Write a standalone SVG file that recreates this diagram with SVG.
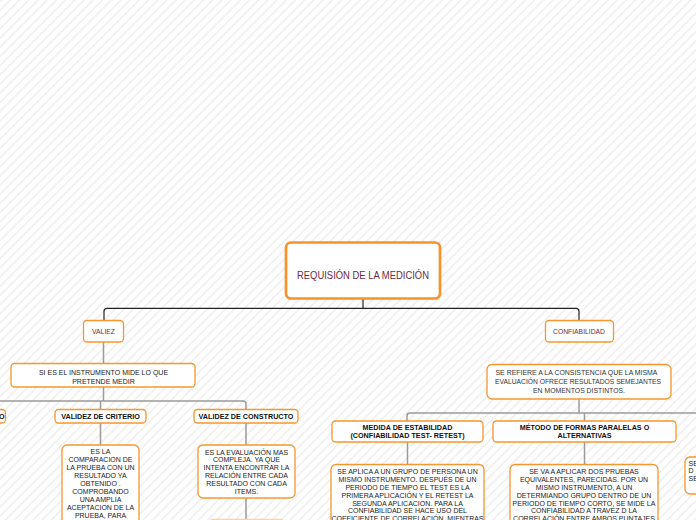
<svg xmlns="http://www.w3.org/2000/svg" width="696" height="520" viewBox="0 0 696 520">
<defs>
<pattern id="stripes" width="6.5" height="6.5" patternUnits="userSpaceOnUse" patternTransform="rotate(-45)">
<rect x="0" y="0" width="6.5" height="1.8" fill="#f1f1f1"/>
</pattern>
<style>
.box{fill:#fff;stroke:#f7962e;stroke-width:1.3}
.root{fill:#fff;stroke:#f7922a;stroke-width:2.7}
.main{font-family:"Liberation Sans Narrow","Liberation Sans",sans-serif;fill:#6d2c43;text-anchor:middle}
.hd{font-family:"Liberation Sans",Arial,sans-serif;font-weight:bold;font-size:7.2px;fill:#111;text-anchor:middle}
.bd{font-family:"Liberation Sans",Arial,sans-serif;font-size:7px;fill:#222;text-anchor:middle}
.nr{font-family:"Liberation Sans Narrow","Liberation Sans",sans-serif;font-size:7.6px;fill:#333;text-anchor:middle}
.c1{fill:none;stroke:#222;stroke-width:1.2}
.c2{fill:none;stroke:#9a9a9a;stroke-width:1.5}
</style>
</defs>
<rect width="696" height="520" fill="#fff"/>
<rect width="696" height="520" fill="url(#stripes)"/>

<g id="connectors">
<path class="c1" d="M363 299 V308.3 M107 308.3 H576 M104 320 V311.3 Q104 308.3 107 308.3 M576 308.3 Q579 308.3 579 311.3 V320"/>
<path class="c2" d="M103.5 342 V363 M103.5 387 V401 M0 401 H243 Q246 401 246 404 V409 M100.5 401 V409 M100.5 423 V445 M246 423 V445 M246 498 V519"/>
<path class="c2" d="M579 399 V413 M410 413 H696 M407 421 V416 Q407 413 410 413 M584.5 413 V421 M407.5 442 V464 M584.5 442 V464"/>
</g>

<g id="root">
<rect class="root" x="286" y="242.5" width="154" height="56" rx="5"/>
<text class="main" x="363" y="279" font-size="11.5" textLength="132" lengthAdjust="spacingAndGlyphs">REQUISIÓN DE LA MEDICIÓN</text>
</g>

<g id="valiez">
<rect class="box" x="83.5" y="320.5" width="40" height="21.5" rx="3.5"/>
<text class="main" x="103.5" y="334" font-size="7.5" textLength="23" lengthAdjust="spacingAndGlyphs">VALIEZ</text>
</g>

<g id="confiabilidad">
<rect class="box" x="545.5" y="320.5" width="68" height="21.5" rx="3.5"/>
<text class="main" x="579" y="334" font-size="7.5" textLength="52" lengthAdjust="spacingAndGlyphs">CONFIABILIDAD</text>
</g>

<g id="si-es">
<rect class="box" x="11" y="363.5" width="184" height="23.5" rx="3.5"/>
<text class="bd" x="103.5" y="374.5">SI ES EL INSTRUMENTO MIDE LO QUE</text>
<text class="bd" x="103.5" y="383.5">PRETENDE MEDIR</text>
</g>

<g id="left-partial">
<rect class="box" x="-80" y="409.5" width="85.5" height="13.5" rx="3.5"/>
<text class="hd" x="4.5" y="418.5" style="text-anchor:end">O</text>
</g>

<g id="criterio">
<rect class="box" x="55" y="409.5" width="91" height="13.5" rx="3.5"/>
<text class="hd" x="100.5" y="418.8">VALIDEZ DE CRITERIO</text>
</g>

<g id="constructo">
<rect class="box" x="194" y="409.5" width="104" height="13.5" rx="3.5"/>
<text class="hd" x="246" y="418.8">VALIDEZ DE CONSTRUCTO</text>
</g>

<g id="criterio-desc">
<rect class="box" x="62" y="445" width="77" height="90" rx="5"/>
<text class="bd" font-size="6.6" x="100.5" y="454.2">ES LA<tspan x="100.5" dy="8">COMPARACION DE</tspan><tspan x="100.5" dy="8">LA PRUEBA CON UN</tspan><tspan x="100.5" dy="8">RESULTADO YA</tspan><tspan x="100.5" dy="8">OBTENIDO .</tspan><tspan x="100.5" dy="8">COMPROBANDO</tspan><tspan x="100.5" dy="8">UNA AMPLIA</tspan><tspan x="100.5" dy="8">ACEPTACION DE LA</tspan><tspan x="100.5" dy="8">PRUEBA, PARA</tspan></text>
</g>

<g id="constructo-desc">
<rect class="box" x="198" y="445" width="97" height="53" rx="5"/>
<text class="bd" font-size="6.8" x="246.5" y="454.5">ES LA EVALUACIÓN MAS<tspan x="246.5" dy="7.8">COMPLEJA. YA QUE</tspan><tspan x="246.5" dy="7.8">INTENTA ENCONTRAR LA</tspan><tspan x="246.5" dy="7.8">RELACIÓN ENTRE CADA</tspan><tspan x="246.5" dy="7.8">RESULTADO CON CADA</tspan><tspan x="246.5" dy="7.8">ITEMS.</tspan></text>
</g>

<g id="constructo-next">
<rect class="box" x="208" y="519.5" width="77" height="30" rx="5" style="stroke:#fbd3a8"/>
</g>

<g id="se-refiere">
<rect class="box" x="487" y="364.5" width="184" height="34.5" rx="5"/>
<text class="nr" x="576.5" y="374.5" textLength="162" lengthAdjust="spacingAndGlyphs">SE REFIERE A LA CONSISTENCIA QUE LA MISMA</text>
<text class="nr" x="578" y="383.8" textLength="166" lengthAdjust="spacingAndGlyphs">EVALUACIÓN OFRECE RESULTADOS  SEMEJANTES</text>
<text class="nr" x="579" y="393.2" textLength="92" lengthAdjust="spacingAndGlyphs">EN MOMENTOS  DISTINTOS.</text>
</g>

<g id="estabilidad">
<rect class="box" x="332" y="421" width="151" height="21" rx="3.5"/>
<text class="hd" x="407.5" y="429.8">MEDIDA DE ESTABILIDAD</text>
<text class="hd" x="407.5" y="437.8">(CONFIABILIDAD TEST- RETEST)</text>
</g>

<g id="formas-paralelas">
<rect class="box" x="493" y="421" width="183" height="21" rx="3.5"/>
<text class="hd" x="584.5" y="429.8">MÉTODO DE FORMAS PARALELAS O</text>
<text class="hd" x="584.5" y="437.8">ALTERNATIVAS</text>
</g>

<g id="estabilidad-desc">
<rect class="box" x="331" y="464.5" width="153" height="70" rx="5"/>
<text class="bd" font-size="6.8" x="407.5" y="474.2">SE APLICA A UN GRUPO DE PERSONA UN<tspan x="407.5" dy="7.85">MISMO INSTRUMENTO. DESPUÉS DE UN</tspan><tspan x="407.5" dy="7.85">PERIODO DE TIEMPO EL TEST ES LA</tspan><tspan x="407.5" dy="7.85">PRIMERA APLICACIÓN Y EL RETEST LA</tspan><tspan x="407.5" dy="7.85">SEGUNDA APLICACION. PARA LA</tspan><tspan x="407.5" dy="7.85">CONFIABILIDAD SE HACE USO DEL</tspan><tspan x="407.5" dy="7.85">COEFICIENTE DE CORRELACIÓN, MIENTRAS</tspan></text>
</g>

<g id="paralelas-desc">
<rect class="box" x="510" y="464.5" width="148" height="70" rx="5"/>
<text class="bd" font-size="6.8" x="584" y="474.2">SE VA A APLICAR DOS PRUEBAS<tspan x="584" dy="7.85">EQUIVALENTES, PARECIDAS. POR UN</tspan><tspan x="584" dy="7.85">MISMO INSTRUMENTO, A UN</tspan><tspan x="584" dy="7.85">DETERMIANDO GRUPO  DENTRO DE UN</tspan><tspan x="584" dy="7.85">PERIODO DE TIEMPO CORTO. SE MIDE LA</tspan><tspan x="584" dy="7.85">CONFIABILIDAD A TRAVÉZ D LA</tspan><tspan x="584" dy="7.85">CORRELACIÓN ENTRE AMBOS PUNTAJES</tspan></text>
</g>

<g id="right-partial">
<rect class="box" x="685" y="457" width="80" height="37" rx="5"/>
<text class="bd" font-size="6.8" x="688.5" y="465.5" style="text-anchor:start">SE<tspan x="688.5" dy="7.9">D</tspan><tspan x="688.5" dy="7.9">SE</tspan></text>
</g>
</svg>
